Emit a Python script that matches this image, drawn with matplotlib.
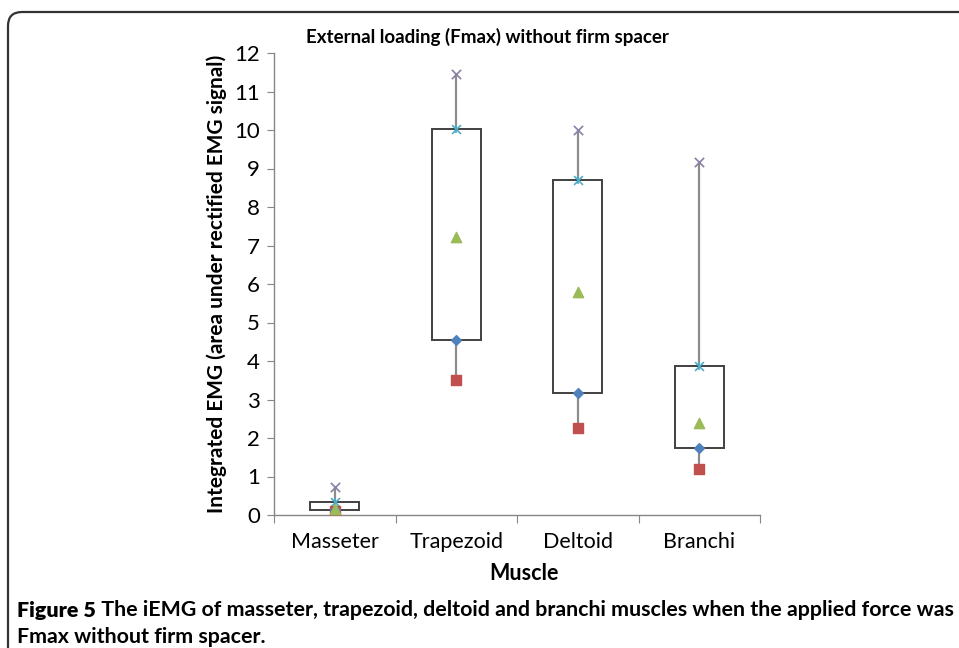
import matplotlib
matplotlib.use("Agg")
import matplotlib.pyplot as plt
from matplotlib.patches import FancyBboxPatch

plt.rcParams['font.family'] = ['Lato', 'DejaVu Sans']

categories = ["Masseter", "Trapezoid", "Deltoid", "Branchi"]
max_vals = [0.72, 11.45, 10.0, 9.18]
q3_vals = [0.34, 10.03, 8.70, 3.87]
mean_vals = [0.15, 7.23, 5.78, 2.40]
q1_vals = [0.14, 4.55, 3.18, 1.73]
min_vals = [0.10, 3.50, 2.27, 1.20]
y_ticks = list(range(0, 13))

title = "External loading (Fmax) without firm spacer"
ylabel = "Integrated EMG (area under rectified EMG signal)"
xlabel = "Muscle"
caption_bold = "Figure 5"
caption_rest = " The iEMG of masseter, trapezoid, deltoid and branchi muscles when the applied force was"
caption_line2 = "Fmax without firm spacer."

W, H = 959, 648
fig = plt.figure(figsize=(W / 100, H / 100), dpi=100)
fig.patch.set_facecolor("white")

# frame with rounded top-left corner
frame = FancyBboxPatch((8, -60), 1100, 648 - 12 + 60, boxstyle="round,pad=0,rounding_size=14",
                       transform=None, fill=False, edgecolor="#333333", linewidth=1.6, clip_on=False)
fig.patches.append(frame)

ax = fig.add_axes([274 / W, 1 - 515 / H, (760 - 274) / W, (515 - 53) / H])
x = list(range(len(categories)))

box_w = 0.4
ax.bar(x, [a - b for a, b in zip(q3_vals, q1_vals)], bottom=q1_vals, width=box_w,
       facecolor="white", edgecolor="#404040", linewidth=1.4, zorder=2)
ax.vlines(x, q3_vals, max_vals, color="#8c8c8c", linewidth=1.6, zorder=1)
ax.vlines(x, min_vals, q1_vals, color="#8c8c8c", linewidth=1.6, zorder=1)

ax.scatter(x, max_vals, marker="x", s=45, color="#8a7fa6", linewidths=1.2, zorder=4)
ax.scatter(x, q3_vals, marker="x", s=40, color="#4BACC6", linewidths=1.2, zorder=4)
ax.scatter(x, q3_vals, marker="|", s=40, color="#4BACC6", linewidths=1.2, zorder=4)
ax.scatter(x, min_vals, marker="s", s=45, color="#C0504D", zorder=4)
ax.scatter(x, q1_vals, marker="D", s=25, color="#4F81BD", zorder=4)
ax.scatter(x, mean_vals, marker="^", s=55, color="#9BBB59", zorder=5)

ax.set_xlim(-0.5, len(categories) - 0.5)
ax.set_ylim(0, 12)
ax.set_yticks(y_ticks)
ax.set_yticklabels([str(t) for t in y_ticks], fontsize=16)
ax.set_xticks([i - 0.5 for i in range(len(categories) + 1)])
ax.set_xticklabels([])
ax.set_xticks(x, minor=True)
ax.set_xticklabels(categories, minor=True, fontsize=15.5)
ax.tick_params(axis="x", which="minor", length=0, pad=12)
ax.tick_params(axis="x", which="major", length=6, color="#868686", direction="out")
ax.tick_params(axis="y", length=5, color="#868686", direction="out", pad=5)

for s in ["top", "right"]:
    ax.spines[s].set_visible(False)
for s in ["left", "bottom"]:
    ax.spines[s].set_color("#868686")
    ax.spines[s].set_linewidth(1.0)

fig.text(487 / W, 1 - 37 / H, title, ha="center", va="center", fontsize=13.5, fontweight="bold")
fig.text(217 / W, 1 - 284 / H, ylabel, ha="center", va="center", rotation=90, fontsize=15, fontweight="bold")
fig.text(524 / W, 1 - 573 / H, xlabel, ha="center", va="center", fontsize=15.5, fontweight="bold")

cap_fs = 15.4
t1 = fig.text(17 / W, 1 - 610 / H, caption_bold, ha="left", va="center", fontsize=cap_fs, fontweight="heavy")
fig.canvas.draw()
bb = t1.get_window_extent()
fig.text(bb.x1 / W, 1 - 610 / H, caption_rest, ha="left", va="center", fontsize=cap_fs, fontweight="bold")
fig.text(17 / W, 1 - 637 / H, caption_line2, ha="left", va="center", fontsize=cap_fs, fontweight="bold")

fig.savefig("out.png", dpi=100, facecolor="white")
